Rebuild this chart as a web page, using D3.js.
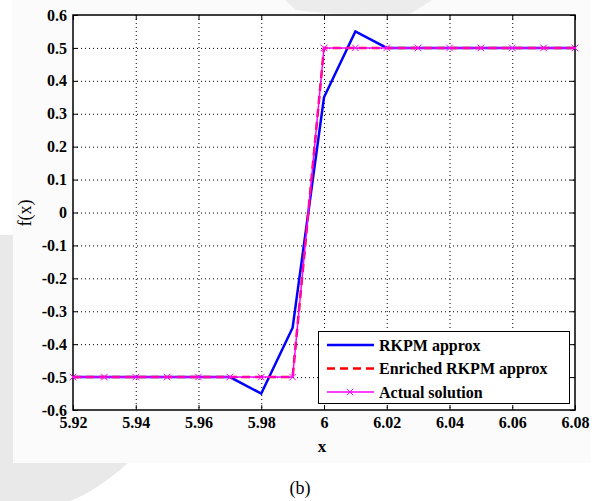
<!DOCTYPE html>
<html>
<head>
<meta charset="utf-8">
<script src="https://cdn.jsdelivr.net/npm/d3@7"></script>
<style>
  body { margin: 0; background: #fff; }
  svg { display: block; }
</style>
</head>
<body>
<svg id="chart" width="600" height="501"></svg>
<script>
// data
const xs = [5.92, 5.93, 5.94, 5.95, 5.96, 5.97, 5.98, 5.99, 6.00, 6.01, 6.02, 6.03, 6.04, 6.05, 6.06, 6.07, 6.08];
const rkpm = [-0.5, -0.5, -0.5, -0.5, -0.5, -0.5, -0.55, -0.35, 0.35, 0.55, 0.5, 0.5, 0.5, 0.5, 0.5, 0.5, 0.5];
const enriched = [-0.5, -0.5, -0.5, -0.5, -0.5, -0.5, -0.5, -0.5, 0.5, 0.5, 0.5, 0.5, 0.5, 0.5, 0.5, 0.5, 0.5];
const actual = [-0.5, -0.5, -0.5, -0.5, -0.5, -0.5, -0.5, -0.5, 0.5, 0.5, 0.5, 0.5, 0.5, 0.5, 0.5, 0.5, 0.5];
const xTicks = [5.92, 5.94, 5.96, 5.98, 6.00, 6.02, 6.04, 6.06, 6.08];
const yTicks = [-0.6, -0.5, -0.4, -0.3, -0.2, -0.1, 0, 0.1, 0.2, 0.3, 0.4, 0.5, 0.6];
const legendNames = ["RKPM approx", "Enriched RKPM approx", "Actual solution"];

const serif = '"Liberation Serif", "Times New Roman", serif';
const $svg = d3.select('#chart');
const m = {left: 73, top: 15, right: 575, bottom: 410};

// watermark / scanned background
$svg.append('rect').attr('x', 12).attr('y', 0).attr('width', 578).attr('height', 463).attr('fill', '#fbfbfb');
$svg.append('path')
  .attr('d', 'M0,235 L13,235 L13,463 L128,463 Q95,492 70,501 L0,501 Z')
  .attr('fill', '#e9e9e9');
$svg.append('path')
  .attr('d', 'M285,0 L432,0 L410,14 Q340,16 296,10 Z')
  .attr('fill', '#ececec');

const x = d3.scaleLinear().domain([5.92, 6.08]).range([m.left, m.right]);
const y = d3.scaleLinear().domain([-0.6, 0.6]).range([m.bottom, m.top]);
const fmtX = d => d === 6 ? '6' : d.toFixed(2);
const fmtY = d => d === 0 ? '0' : d.toFixed(1);

$svg.append('rect').attr('x', m.left).attr('y', m.top)
  .attr('width', m.right - m.left).attr('height', m.bottom - m.top).attr('fill', '#fff');

// dotted grid
const grid = $svg.append('g').attr('stroke', '#000').attr('stroke-width', 1).attr('stroke-dasharray', '1,3');
grid.selectAll('.gx').data(xTicks.slice(1, -1)).enter().append('line')
  .attr('x1', d => x(d) + 0.5).attr('x2', d => x(d) + 0.5).attr('y1', m.top).attr('y2', m.bottom);
grid.selectAll('.gy').data(yTicks.slice(1, -1)).enter().append('line')
  .attr('y1', d => y(d) + 0.5).attr('y2', d => y(d) + 0.5).attr('x1', m.left).attr('x2', m.right);

// axes with inward ticks
const axB = $svg.append('g').attr('transform', `translate(0,${m.bottom})`)
  .call(d3.axisBottom(x).tickValues(xTicks).tickFormat(fmtX).tickSizeInner(-5).tickSizeOuter(0).tickPadding(10));
const axL = $svg.append('g').attr('transform', `translate(${m.left},0)`)
  .call(d3.axisLeft(y).tickValues(yTicks).tickFormat(fmtY).tickSizeInner(-5).tickSizeOuter(0).tickPadding(6));
const axT = $svg.append('g').attr('transform', `translate(0,${m.top})`)
  .call(d3.axisTop(x).tickValues(xTicks).tickFormat('').tickSizeInner(-5).tickSizeOuter(0));
const axR = $svg.append('g').attr('transform', `translate(${m.right},0)`)
  .call(d3.axisRight(y).tickValues(yTicks).tickFormat('').tickSizeInner(-5).tickSizeOuter(0));
[axB, axL, axT, axR].forEach(a => {
  a.select('.domain').remove();
  a.selectAll('line').attr('stroke', '#000');
  a.selectAll('text')
    .style('font-family', serif).style('font-size', '16px').style('font-weight', 'bold')
    .attr('fill', '#000');
});
axB.selectAll('text').attr('dy', '0.5em');
$svg.append('rect').attr('x', m.left).attr('y', m.top)
  .attr('width', m.right - m.left).attr('height', m.bottom - m.top)
  .attr('fill', 'none').attr('stroke', '#000').attr('stroke-width', 1.5);

// series
const line = d3.line().x((d, i) => x(xs[i])).y(d => y(d));
$svg.append('path').datum(rkpm).attr('d', line)
  .attr('fill', 'none').attr('stroke', '#0000ff').attr('stroke-width', 2.5);
$svg.append('path').datum(enriched).attr('d', line)
  .attr('fill', 'none').attr('stroke', '#ff0000').attr('stroke-width', 2.5).attr('stroke-dasharray', '8,5');
$svg.append('path').datum(actual).attr('d', line)
  .attr('fill', 'none').attr('stroke', '#ff00ff').attr('stroke-width', 1.5);
const cross = d3.symbol().type(d3.symbolX).size(30);
$svg.selectAll('.mk').data(actual).enter().append('path')
  .attr('transform', (d, i) => `translate(${x(xs[i])},${y(d)})`)
  .attr('d', cross).attr('fill', 'none').attr('stroke', '#ff00ff').attr('stroke-width', 1);

// labels
$svg.append('text').attr('x', 322).attr('y', 452).attr('text-anchor', 'middle')
  .style('font-family', serif).attr('font-weight', 'bold').attr('font-size', 17).text('x');
$svg.append('text').attr('transform', 'translate(31,213) rotate(-90)').attr('text-anchor', 'middle')
  .style('font-family', serif).attr('font-size', 18).text('f(x)');
$svg.append('text').attr('x', 300).attr('y', 494).attr('text-anchor', 'middle')
  .style('font-family', serif).attr('font-size', 18).text('(b)');

// legend
const lg = $svg.append('g');
lg.append('rect').attr('x', 318.5).attr('y', 331.5).attr('width', 251).attr('height', 72)
  .attr('fill', '#fff').attr('stroke', '#000').attr('stroke-width', 1);
const rows = lg.selectAll('.row').data(legendNames).enter().append('g')
  .attr('transform', (d, i) => `translate(0,${345 + i * 23.5})`);
rows.append('line').attr('x1', 327).attr('x2', 374).attr('y1', 0).attr('y2', 0)
  .attr('stroke', (d, i) => ['#0000ff', '#ff0000', '#ff00ff'][i])
  .attr('stroke-width', (d, i) => i === 2 ? 1.5 : 2.5)
  .attr('stroke-dasharray', (d, i) => i === 1 ? '8,5' : null);
rows.filter((d, i) => i === 2).append('path').attr('transform', 'translate(350,0)')
  .attr('d', cross).attr('fill', 'none').attr('stroke', '#ff00ff');
rows.append('text').attr('x', 379).attr('y', 0).attr('dy', '0.35em')
  .style('font-family', serif).attr('font-weight', 'bold').attr('font-size', 16)
  .text(d => d);
</script>
</body>
</html>
